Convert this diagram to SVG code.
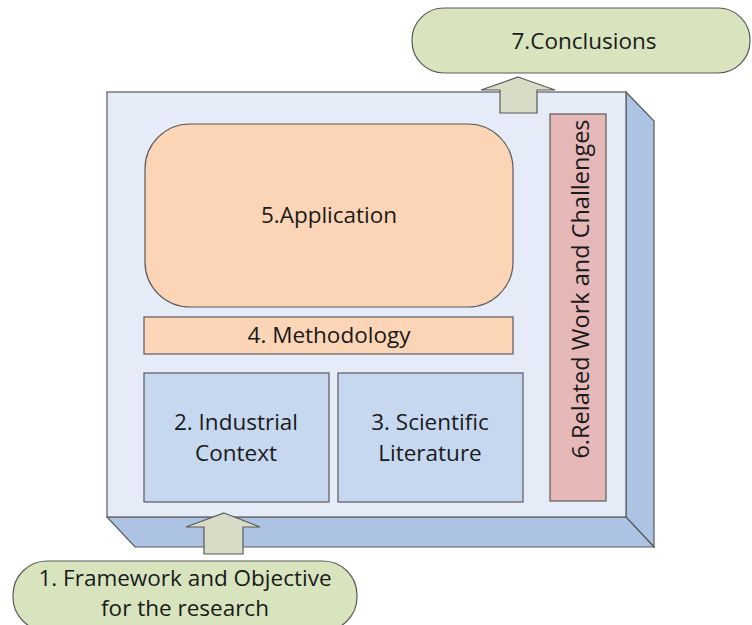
<svg xmlns="http://www.w3.org/2000/svg" width="752" height="625" viewBox="0 0 752 625">
<style>
text{font-family:"Open Sans","Noto Sans",sans-serif;font-size:22.5px;fill:#1a1a1a;text-anchor:middle;dominant-baseline:central}
.ln{stroke:#5a5a5a;stroke-width:1.2}
.green{fill:#d7e4bd}
.arrow{fill:#d8dcc6}
.side{fill:#adc3e3}
.front{fill:#e5ecf7}
.peach{fill:#fbd5b5}
.blue{fill:#c6d8ef}
.pink{fill:#e6b9b8}
</style>
<rect width="752" height="625" fill="#ffffff"/>
<g id="container">
<polygon class="side ln" points="626,92 654,121 654,547 626,517"/>
<polygon class="side ln" points="107,517 626,517 654,547 135,547"/>
<rect class="front ln" x="107" y="92" width="519" height="425"/>
</g>
<g id="connectors">
<polygon class="arrow ln" points="518,77 555,90 537,90 537,113 500,113 500,90 481,90"/>
<polygon class="arrow ln" points="224,513 260,527 243,527 243,554 204,554 204,527 186,527"/>
</g>
<g id="n7">
<rect class="green ln" x="412" y="8" width="338" height="65" rx="32" ry="32"/>
<text x="584" y="40">7.Conclusions</text>
</g>
<g id="n5">
<rect class="peach ln" x="145" y="124" width="368" height="183" rx="45" ry="45"/>
<text x="329" y="214">5.Application</text>
</g>
<g id="n4">
<rect class="peach ln" x="144" y="317" width="369" height="37"/>
<text x="329" y="334">4. Methodology</text>
</g>
<g id="n2">
<rect class="blue ln" x="144" y="373" width="185" height="129"/>
<text x="236" y="421">2. Industrial</text>
<text x="236" y="452">Context</text>
</g>
<g id="n3">
<rect class="blue ln" x="338" y="373" width="185" height="129"/>
<text x="430" y="421">3. Scientific</text>
<text x="430" y="452">Literature</text>
</g>
<g id="n6">
<rect class="pink ln" x="550" y="114" width="56" height="387"/>
<text x="580" y="289" transform="rotate(-90 580 289)" style="font-size:23.5px">6.Related Work and Challenges</text>
</g>
<g id="n1">
<rect class="green ln" x="13" y="561" width="344" height="70" rx="34" ry="34"/>
<text x="185" y="577">1. Framework and Objective</text>
<text x="185" y="607">for the research</text>
</g>
</svg>
